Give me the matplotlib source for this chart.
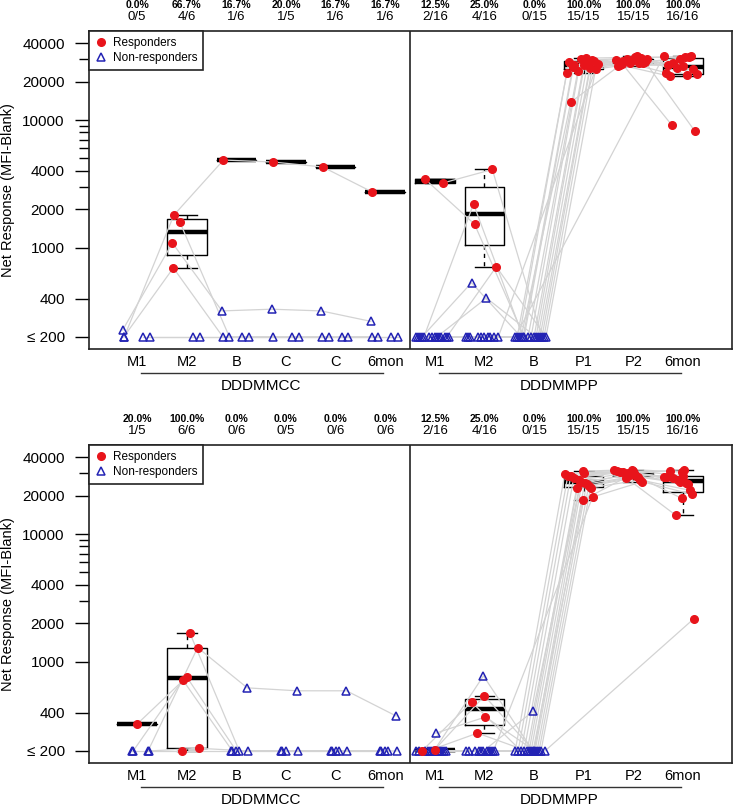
import numpy as np
import matplotlib.pyplot as plt
from matplotlib.lines import Line2D
import matplotlib.ticker as mticker

plt.rcParams['font.family'] = ['Liberation Sans', 'DejaVu Sans']

N = np.nan
groups = ['DDDMMCC', 'DDDMMPP']
tp_cc = ['M1', 'M2', 'B', 'C', 'C', '6mon']
tp_pp = ['M1', 'M2', 'B', 'P1', 'P2', '6mon']

# rows = subjects, columns = timepoints ; resp 1 = responder
top_cc_vals = [
    [200, 1800, 4860, 4690, 4290, 2730],
    [227, 1090, 320, 330, 320, 265],
    [200, 695, 200, 200, 200, 200],
    [N, 1590, 200, N, 200, 200],
    [200, 200, 200, 200, 200, 200],
    [200, 200, 200, 200, 200, 200],
]
top_cc_resp = [
    [0, 1, 1, 1, 1, 1],
    [0, 1, 0, 0, 0, 0],
    [0, 1, 0, 0, 0, 0],
    [0, 1, 0, 0, 0, 0],
    [0, 0, 0, 0, 0, 0],
    [0, 0, 0, 0, 0, 0],
]
top_cc_jit = [-0.26, -0.29, -0.27, -0.14, 0.12, 0.26]

top_pp_vals = [
    [3450, 1530, 200, 27000, 29000, 28000],
    [3210, 4100, 200, 29500, 30800, 31500],
    [200, 2200, 200, 26000, 27500, 9100],
    [200, 710, 200, 25000, 28500, 8200],
    [200, 532, 200, 13800, 27000, 22000],
    [200, 404, 200, 30500, 31000, 31000],
    [200, 200, 200, 23300, 29500, 23500],
    [200, 200, 200, 28700, 26600, 27000],
    [200, 200, 200, 24000, 30000, 25500],
    [200, 200, 200, 30000, 28000, 30000],
    [200, 200, 200, 26800, 29500, 26500],
    [200, 200, 200, 28000, 31500, 22500],
    [200, 200, 200, 25500, 28200, 31000],
    [200, 200, 200, 29000, 27800, 25000],
    [200, 200, N, 27500, 30000, 23000],
    [200, 200, 200, N, N, 32000],
]
top_pp_resp = [
    [1, 1, 0, 1, 1, 1],
    [1, 1, 0, 1, 1, 1],
    [0, 1, 0, 1, 1, 1],
    [0, 1, 0, 1, 1, 1],
] + [[0, 0, 0, 1, 1, 1]] * 12
top_pp_jit = [-0.20, 0.16, -0.22, 0.24, -0.26, 0.04, -0.34, -0.30,
              -0.12, -0.06, 0.00, 0.08, 0.12, 0.20, 0.28, -0.38]

bot_cc_vals = [
    [325, 760, 200, 200, 200, 200],
    [200, 1290, 624, 592, 592, 376],
    [N, 1688, 200, N, 200, 200],
    [200, 721, 200, 200, 200, 200],
    [200, 200, 200, 200, 200, 200],
    [200, 210, 200, 200, 200, 200],
]
bot_cc_resp = [[1, 1, 0, 0, 0, 0]] + [[0, 1, 0, 0, 0, 0]] * 5
bot_cc_jit = [0.0, 0.22, 0.06, -0.08, -0.10, 0.24]

bot_pp_vals = [
    [205, 540, 200, 29900, 31300, 28600],
    [200, 484, 200, 28400, 30500, 31000],
    [276, 369, 200, 25000, 30000, 32000],
    [200, 276, 200, 22800, 27500, 14000],
    [200, 775, 200, 18400, 29500, 19000],
    [200, 200, 409, 31000, 32000, 30500],
    [200, 200, 200, 29500, 31500, 28200],
    [200, 200, 200, 28400, 31000, 28000],
    [200, 200, 200, 27500, 30500, 27500],
    [200, 200, 200, 26500, 30000, 26500],
    [200, 200, 200, 25500, 29000, 25500],
    [200, 200, 200, 24600, 28500, 25000],
    [200, 200, 200, 23600, 28000, 24600],
    [200, 200, 200, 23000, 26500, 22000],
    [200, 200, N, 19500, 25700, 20500],
    [200, 200, 200, N, N, 2170],
]
bot_pp_resp = [
    [1, 1, 0, 1, 1, 1],
    [1, 1, 0, 1, 1, 1],
    [0, 1, 0, 1, 1, 1],
    [0, 1, 0, 1, 1, 1],
] + [[0, 0, 0, 1, 1, 1]] * 12
bot_pp_jit = [0.0, -0.26, 0.02, -0.14, -0.02, -0.02, -0.38, -0.32,
              -0.20, -0.10, -0.06, 0.06, 0.10, 0.14, 0.18, 0.22]

RED = '#e8141b'
BLUE = '#2323b4'
GREY = '#d3d3d3'


def fivenum(x):
    # Tukey five-number summary, as R computes it
    x = np.sort(x)
    n = len(x)
    n4 = np.floor((n + 3) / 2) / 2
    d = np.array([1, n4, (n + 1) / 2, n + 1 - n4, n]) - 1
    return 0.5 * (x[np.floor(d).astype(int)] + x[np.ceil(d).astype(int)])


def box_stats(v):
    lv = np.log10(v)
    f = fivenum(lv)
    iqr = f[3] - f[1]
    lo = lv[lv >= f[1] - 1.5 * iqr].min()
    hi = lv[lv <= f[3] + 1.5 * iqr].max()
    return dict(med=10 ** f[2], q1=10 ** f[1], q3=10 ** f[3],
                whislo=10 ** lo, whishi=10 ** hi, fliers=[])


def draw_group(ax, vals, resp, jit, first, name):
    vals = np.array(vals, float)
    seen = ~np.isnan(vals)
    resp = np.array(resp, bool) & seen
    pos = np.arange(first, first + vals.shape[1])
    xs = pos[None, :] + np.array(jit)[:, None]
    tr = ax.get_xaxis_transform()

    for j, p in enumerate(pos):
        r = vals[resp[:, j], j]
        if len(r):
            ax.bxp([box_stats(r)], positions=[p], widths=0.8, showfliers=False,
                   manage_ticks=False,
                   boxprops=dict(color='black', lw=1),
                   medianprops=dict(color='black', lw=3.2, solid_capstyle='butt'),
                   whiskerprops=dict(color='black', lw=1, linestyle=(0, (3, 3))),
                   capprops=dict(color='black', lw=1))

    for i in range(len(vals)):
        ok = seen[i]
        ax.plot(xs[i, ok], vals[i, ok], color=GREY, lw=0.9, zorder=3)

    nr = ~resp & seen
    ax.plot(xs[nr], vals[nr], ls='none', marker='^', ms=6, mfc='none',
            mec=BLUE, mew=1.1, zorder=4)
    ax.plot(xs[resp], vals[resp], ls='none', marker='o', ms=5.5, mfc=RED,
            mec=RED, zorder=5)

    for j, p in enumerate(pos):
        n = seen[:, j].sum()
        k = resp[:, j].sum()
        ax.text(p, 1.083, f'{100 * k / n:.1f}%', transform=tr, ha='center',
                va='center', fontsize=7.5, fontweight='bold')
        ax.text(p, 1.044, f'{k}/{n}', transform=tr, ha='center', va='center',
                fontsize=9.5)

    ax.plot([first + 0.08, first + 4.96], [-0.077, -0.077], transform=tr,
            clip_on=False, color='#333333', lw=1)
    ax.text(first + 2.5, -0.117, name, transform=tr, ha='center', va='center',
            fontsize=11)


fig = plt.figure(figsize=(7.33, 8.06), dpi=100)
ax_top = fig.add_axes([89 / 733, (806 - 349) / 806, 643 / 733, 318 / 806])
ax_bot = fig.add_axes([89 / 733, (806 - 763) / 806, 643 / 733, 318 / 806])

panels = [
    (ax_top, top_cc_vals, top_cc_resp, top_cc_jit, top_pp_vals, top_pp_resp, top_pp_jit),
    (ax_bot, bot_cc_vals, bot_cc_resp, bot_cc_jit, bot_pp_vals, bot_pp_resp, bot_pp_jit),
]

for ax, cv, cr, cj, pv, pr, pj in panels:
    ax.set_yscale('log')
    draw_group(ax, cv, cr, cj, 1, groups[0])
    draw_group(ax, pv, pr, pj, 7, groups[1])
    ax.axvline(6.5, color='#222222', lw=1.2)
    ax.set_xlim(0.03, 12.99)
    ax.set_ylim(161, 49800)

    ax.set_xticks(np.arange(1, 13))
    ax.set_xticklabels(tp_cc + tp_pp, fontsize=10.5)
    ax.tick_params(axis='x', length=0, pad=4.3)

    ax.yaxis.set_major_locator(mticker.FixedLocator([200, 400, 1000, 2000, 4000, 10000, 20000, 40000]))
    ax.yaxis.set_major_formatter(mticker.FixedFormatter(
        ['\u2264 200', '400', '1000', '2000', '4000', '10000', '20000', '40000']))
    ax.yaxis.set_minor_locator(mticker.FixedLocator([3000, 5000, 6000, 7000, 8000, 9000, 30000]))
    ax.yaxis.set_minor_formatter(mticker.NullFormatter())
    ax.tick_params(axis='y', which='major', length=10, width=1, pad=7.5, labelsize=11)
    ax.tick_params(axis='y', which='minor', length=7, width=1)

    for s in ax.spines.values():
        s.set_color('#222222')
        s.set_linewidth(1.2)

    ax.set_ylabel('Net Response (MFI-Blank)', fontsize=10.5)
    ax.yaxis.set_label_coords((15 - 89) / 643, 0.5)

    handles = [
        Line2D([], [], ls='none', marker='o', ms=5.5, mfc=RED, mec=RED),
        Line2D([], [], ls='none', marker='^', ms=6, mfc='none', mec=BLUE, mew=1.1),
    ]
    leg = ax.legend(handles, ['Responders', 'Non-responders'], loc='upper left',
                    borderaxespad=0, fancybox=False, edgecolor='#222222',
                    framealpha=1, fontsize=8.5, handlelength=1, handletextpad=0.5,
                    borderpad=0.5, labelspacing=0.25)
    leg.get_frame().set_linewidth(1.2)
    leg.set_zorder(10)

fig.savefig('out.png', dpi=100)
